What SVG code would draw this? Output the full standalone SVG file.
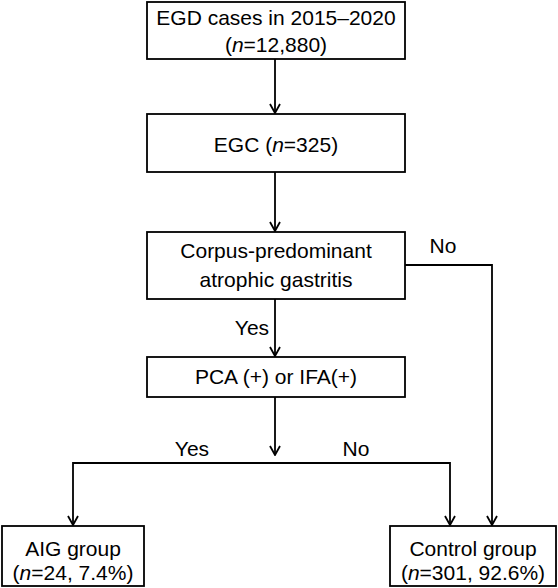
<svg xmlns="http://www.w3.org/2000/svg" width="558" height="588" viewBox="0 0 558 588">
<style>
.box{fill:#fff;stroke:#000;stroke-width:1.8}
.ln{fill:none;stroke:#000;stroke-width:1.8}
text{font-family:"Liberation Sans",Arial,sans-serif;font-size:21px;fill:#000;text-anchor:middle}
</style>
<defs>
<marker id="ah" viewBox="0 0 12 12" refX="11" refY="6" markerWidth="12" markerHeight="12" markerUnits="userSpaceOnUse" orient="auto-start-reverse">
<polyline points="2,1 11,6 2,11" fill="none" stroke="#000" stroke-width="1.8"/>
</marker>
</defs>
<g id="connectors">
<line class="ln" x1="275" y1="59" x2="275" y2="113" marker-end="url(#ah)"/>
<line class="ln" x1="275" y1="172" x2="275" y2="231" marker-end="url(#ah)"/>
<line class="ln" x1="275" y1="299" x2="275" y2="356" marker-end="url(#ah)"/>
<line class="ln" x1="275" y1="397" x2="275" y2="455" marker-end="url(#ah)"/>
<polyline class="ln" points="405,265 492,265 492,525" marker-end="url(#ah)"/>
<polyline class="ln" points="73,525 73,463 450,463 450,525" marker-start="url(#ah)" marker-end="url(#ah)"/>
<text x="443" y="253">No</text>
<text x="252" y="335">Yes</text>
<text x="192" y="456">Yes</text>
<text x="356" y="456">No</text>
</g>
<g id="n1">
<rect class="box" x="147" y="2" width="258" height="57"/>
<text x="276" y="25">EGD cases in 2015–2020</text>
<text x="276" y="52">(<tspan font-style="italic">n</tspan>=12,880)</text>
</g>
<g id="n2">
<rect class="box" x="147" y="114" width="258" height="58"/>
<text x="276" y="152">EGC (<tspan font-style="italic">n</tspan>=325)</text>
</g>
<g id="n3">
<rect class="box" x="147" y="232" width="258" height="67"/>
<text x="276" y="258">Corpus-predominant</text>
<text x="276" y="287">atrophic gastritis</text>
</g>
<g id="n4">
<rect class="box" x="147" y="357" width="258" height="40"/>
<text x="276" y="384">PCA (+) or IFA(+)</text>
</g>
<g id="n5">
<rect class="box" x="2" y="526" width="142" height="60"/>
<text x="73" y="556">AIG group</text>
<text x="73" y="580">(<tspan font-style="italic">n</tspan>=24, 7.4%)</text>
</g>
<g id="n6">
<rect class="box" x="390" y="526" width="166" height="60"/>
<text x="473" y="556">Control group</text>
<text x="473" y="580">(<tspan font-style="italic">n</tspan>=301, 92.6%)</text>
</g>
</svg>
